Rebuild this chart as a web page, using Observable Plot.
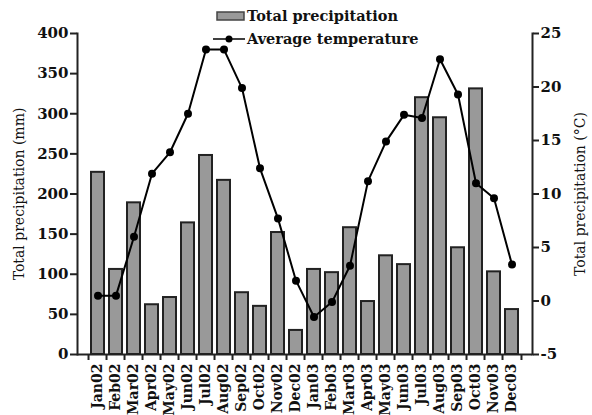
<!DOCTYPE html>
<html>
<head>
<meta charset="utf-8">
<script src="https://cdn.jsdelivr.net/npm/d3@7"></script>
<script src="https://cdn.jsdelivr.net/npm/@observablehq/plot@0.6"></script>
<style>
  html, body { margin: 0; padding: 0; background: #fff; }
  #wrap { position: relative; width: 592px; height: 415px; font-family: "DejaVu Serif", serif; }
  #legend { position: absolute; left: 213px; top: 4px; font-weight: bold; font-size: 14.5px; color: #111; }
  #legend .row { display: flex; align-items: center; height: 23px; }
  #legend svg { display: block; margin-right: 2px; }
</style>
</head>
<body>
<div id="wrap">
  <div id="chart"></div>
  <div id="legend"></div>
</div>
<script>
const months = ["Jan02","Feb02","Mar02","Apr02","May02","Jun02","Jul02","Aug02","Sep02","Oct02","Nov02","Dec02",
                "Jan03","Feb03","Mar03","Apr03","May03","Jun03","Jul03","Aug03","Sep03","Oct03","Nov03","Dec03"];
const precipitation = [227, 106, 189, 62, 71, 164, 248, 217, 77, 60, 152, 30,
                       106, 102, 158, 66, 123, 112, 320, 295, 133, 331, 103, 56];
const temperature = [0.5, 0.5, 6.0, 11.9, 13.9, 17.5, 23.5, 23.5, 19.9, 12.4, 7.7, 1.9,
                     -1.5, -0.1, 3.3, 11.2, 14.9, 17.4, 17.1, 22.6, 19.3, 11.0, 9.6, 3.4];
const precipTicks = [0, 50, 100, 150, 200, 250, 300, 350, 400];
const tempTicks = [-5, 0, 5, 10, 15, 20, 25];
const legendLabels = ["Total precipitation", "Average temperature"];
const leftTitle = "Total precipitation (mm)";
const rightTitle = "Total precipitation (°C)";

// temperature (-5..25) mapped onto precipitation scale (0..400)
const tMin = -5, tMax = 25, pMax = 400;
const toY = t => (t - tMin) * pMax / (tMax - tMin);

const data = months.map((m, i) => ({month: m, p: precipitation[i], t: temperature[i]}));

const W = 592, H = 415, mL = 77, mR = 60, mT = 33, mB = 61;
const step = (W - mL - mR) / months.length;
const font = "DejaVu Serif";

const chart = Plot.plot({
  width: W, height: H,
  marginLeft: mL, marginRight: mR, marginTop: mT, marginBottom: mB,
  style: {fontFamily: font, background: "#fff", color: "#111"},
  x: {type: "band", domain: months, paddingInner: 0.3, paddingOuter: 0.15},
  y: {domain: [0, pMax]},
  marks: [
    Plot.barY(data, {x: "month", y: "p", fill: "#999", stroke: "#222", strokeWidth: 2}),
    Plot.line(data, {x: "month", y: d => toY(d.t), stroke: "#000", strokeWidth: 2}),
    Plot.dot(data, {x: "month", y: d => toY(d.t), r: 4, fill: "#000"}),
    // bottom axis line
    Plot.ruleY([0], {stroke: "#222", strokeWidth: 2}),
    // x tick marks at band boundaries
    Plot.axisX({tickSize: 6, tickFormat: () => "", dx: -step / 2, stroke: "#222", strokeWidth: 2, label: null}),
    Plot.axisX(months.slice(-1), {tickSize: 6, tickFormat: () => "", dx: step / 2, stroke: "#222", strokeWidth: 2, label: null}),
    // x tick labels
    Plot.axisX({tickSize: 0, tickRotate: -90, tickPadding: 9, fontSize: 14, fontWeight: "bold", label: null}),
    // left axis
    Plot.axisY(precipTicks, {anchor: "left", tickSize: 7, tickPadding: 2, fontSize: 15, fontWeight: "bold",
      stroke: "#222", strokeWidth: 2, label: null}),
    Plot.axisY({anchor: "left", tickSize: 0, tickFormat: () => "", fontSize: 14, ticks: [],
      label: leftTitle, labelAnchor: "center", labelArrow: "none", labelOffset: 63}),
    // right axis (temperature)
    Plot.axisY(tempTicks.map(toY), {anchor: "right", tickSize: 6, tickPadding: 2, fontSize: 15, fontWeight: "bold",
      tickFormat: v => String(Math.round(v * (tMax - tMin) / pMax + tMin)),
      stroke: "#222", strokeWidth: 2, label: null}),
    Plot.axisY({anchor: "right", tickSize: 0, tickFormat: () => "", fontSize: 14, ticks: [],
      label: rightTitle, labelAnchor: "center", labelArrow: "none", labelOffset: 52}),
    Plot.frame({anchor: "left", stroke: "#222", strokeWidth: 2}),
    Plot.frame({anchor: "right", stroke: "#222", strokeWidth: 2})
  ]
});
document.getElementById("chart").appendChild(chart);

// legend overlay
const legend = document.getElementById("legend");
const row1 = document.createElement("div");
row1.className = "row";
row1.innerHTML = `<svg width="32" height="12"><rect x="4" y="2" width="27" height="8" fill="#999" stroke="#444" stroke-width="1.5"/></svg><span></span>`;
row1.querySelector("span").textContent = legendLabels[0];
const row2 = document.createElement("div");
row2.className = "row";
row2.innerHTML = `<svg width="32" height="12"><line x1="0" y1="6" x2="32" y2="6" stroke="#000" stroke-width="1.5"/><circle cx="16" cy="6" r="3.5" fill="#000"/></svg><span></span>`;
row2.querySelector("span").textContent = legendLabels[1];
legend.appendChild(row1);
legend.appendChild(row2);
</script>
</body>
</html>
